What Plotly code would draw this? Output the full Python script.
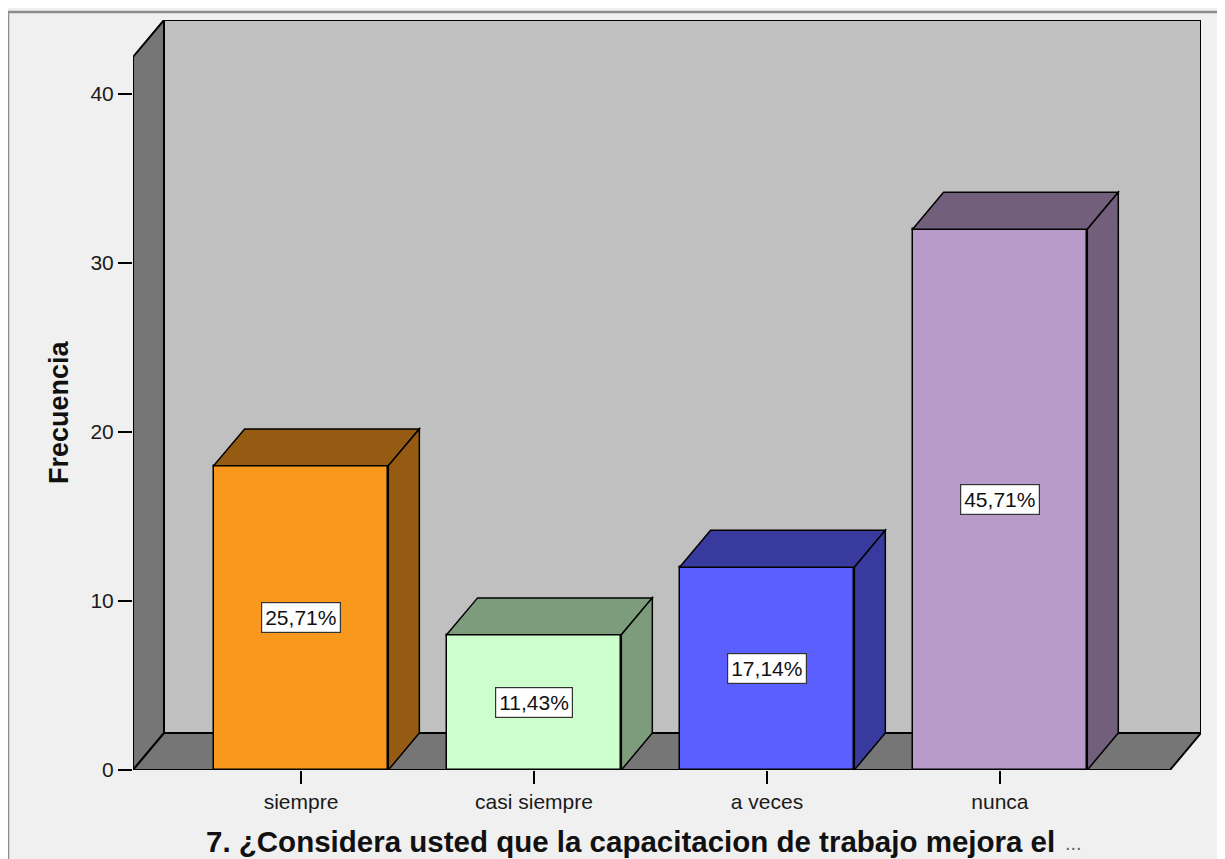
import plotly.graph_objects as go

# ---- data ----
categories = ["siempre", "casi siempre", "a veces", "nunca"]
counts = [18, 8, 12, 32]
pct_labels = ["25,71%", "11,43%", "17,14%", "45,71%"]
front_colors = ["#F8981D", "#CCFFCC", "#5B5FFF", "#B99BCA"]
side_colors = ["#965B12", "#7C9C7C", "#383A9E", "#715F7B"]
y_ticks = [0, 10, 20, 30, 40]
y_title = "Frecuencia"
x_title = "7. ¿Considera usted que la capacitacion de trabajo mejora el"

# ---- 3D geometry (axis units) ----
bar_w = 0.75
dx, dy = 0.133, 2.186          # depth offset
x_left, x_right = -0.721, 3.73  # front floor extent
y_top = 42.2                    # front top of side wall
x_range = [x_left, x_right + dx]
y_range = [0, y_top + dy]

# page offset (browser body margin)
OFF = 8
PL, PR, PT, PB = 133, 1201, 20, 770  # plot area in page px
PW, PH = PR - PL, PB - PT

def px_x(x):
    return (x - PL) / PW

def px_y(y):
    return (PB - y) / PH

def path(pts):
    return "M " + " L ".join(f"{x},{y}" for x, y in pts) + " Z"

shapes = []
line_k = dict(color="black", width=2)
# back wall
shapes.append(dict(type="path", xref="x", yref="y", layer="below",
                   path=path([(x_left + dx, dy), (x_right + dx, dy),
                              (x_right + dx, y_top + dy), (x_left + dx, y_top + dy)]),
                   fillcolor="#C0C0C0", line=line_k))
# left wall
shapes.append(dict(type="path", xref="x", yref="y", layer="below",
                   path=path([(x_left, 0), (x_left, y_top), (x_left + dx, y_top + dy),
                              (x_left + dx, dy)]),
                   fillcolor="#767676", line=line_k))
# floor
shapes.append(dict(type="path", xref="x", yref="y", layer="below",
                   path=path([(x_left, 0), (x_right, 0), (x_right + dx, dy),
                              (x_left + dx, dy)]),
                   fillcolor="#767676", line=line_k))

# bar top & side faces
for i, (v, sc) in enumerate(zip(counts, side_colors)):
    x0, x1 = i - bar_w / 2, i + bar_w / 2
    shapes.append(dict(type="path", xref="x", yref="y", layer="above",
                       path=path([(x0, v), (x1, v), (x1 + dx, v + dy), (x0 + dx, v + dy)]),
                       fillcolor=sc, line=dict(color="black", width=1.5)))
    shapes.append(dict(type="path", xref="x", yref="y", layer="above",
                       path=path([(x1, 0), (x1 + dx, dy), (x1 + dx, v + dy), (x1, v)]),
                       fillcolor=sc, line=dict(color="black", width=1.5)))

# outer frame
shapes.append(dict(type="rect", xref="paper", yref="paper",
                   x0=px_x(8), x1=1.5, y0=-0.6, y1=px_y(12),
                   line=dict(color="#8C8C8C", width=2.5), fillcolor="rgba(0,0,0,0)",
                   layer="below"))

fig = go.Figure()
fig.add_trace(go.Bar(
    x=list(range(len(categories))), y=counts, width=bar_w,
    marker=dict(color=front_colors, line=dict(color="black", width=1.5)),
    hoverinfo="skip", showlegend=False,
))

FONT = "Liberation Sans, Arial"
annotations = []
for i, (v, t) in enumerate(zip(counts, pct_labels)):
    annotations.append(dict(x=i, y=v / 2, xref="x", yref="y", text=t, showarrow=False,
                            font=dict(family=FONT, size=21, color="#111"),
                            bgcolor="white", bordercolor="#333", borderwidth=1.2,
                            borderpad=3))
annotations.append(dict(x=px_x(59), y=px_y(412), xref="paper", yref="paper",
                        text=f"<b>{y_title}</b>", textangle=-90, showarrow=False,
                        xanchor="center", yanchor="middle",
                        font=dict(family=FONT, size=27, color="#111")))
annotations.append(dict(x=px_x(204), y=px_y(841), xref="paper", yref="paper",
                        text=f"<b>{x_title}</b>", showarrow=False,
                        xanchor="left", yanchor="middle",
                        font=dict(family=FONT, size=29.5, color="#111")))
annotations.append(dict(x=px_x(1063), y=px_y(843), xref="paper", yref="paper",
                        text="...", showarrow=False, xanchor="left", yanchor="middle",
                        font=dict(family=FONT, size=20, color="#666")))

W, H = 1225 - OFF, 859 - OFF
fig.update_layout(
    width=W, height=H,
    margin=dict(l=PL - OFF, r=W - (PR - OFF), t=PT - OFF, b=H - (PB - OFF), pad=0),
    paper_bgcolor="#F0F0F0", plot_bgcolor="#F0F0F0",
    shapes=shapes, annotations=annotations,
    xaxis=dict(range=x_range, tickvals=list(range(len(categories))), ticktext=categories,
               ticks="outside", ticklen=13, tickwidth=1.5, tickcolor="black",
               showgrid=False, zeroline=False, showline=False,
               tickfont=dict(family=FONT, size=21, color="#1a1a1a")),
    yaxis=dict(range=y_range, tickvals=y_ticks, ticks="outside", ticklen=14, tickwidth=1.5,
               tickcolor="black", showgrid=False, zeroline=False, showline=False,
               tickfont=dict(family=FONT, size=21, color="#1a1a1a")),
    bargap=0,
)

fig.write_html("out.html")
